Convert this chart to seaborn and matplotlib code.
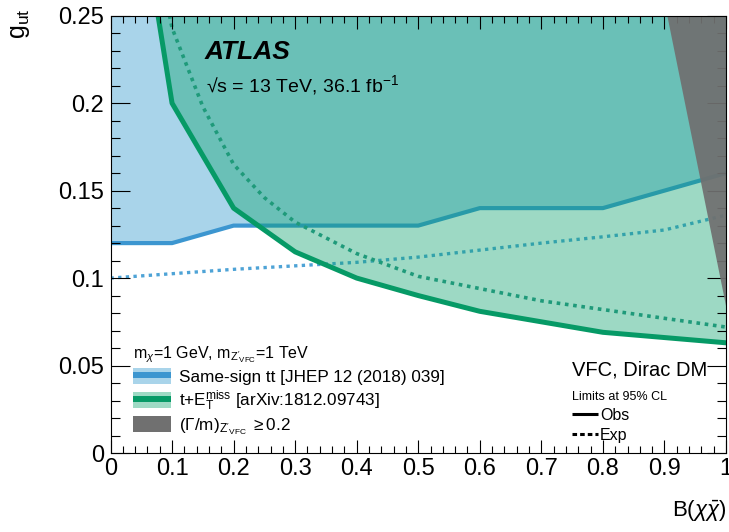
import matplotlib
matplotlib.use("Agg")
import matplotlib.pyplot as plt
import seaborn as sns
from matplotlib.patches import Patch
from matplotlib.lines import Line2D
from matplotlib.legend_handler import HandlerTuple
from matplotlib.ticker import FixedLocator, MultipleLocator, FixedFormatter

# ---- limits on the coupling g_ut versus the invisible branching ratio ----
# same-sign top pair search
ss_bf = [0.0, 0.1, 0.2, 0.3, 0.4, 0.5, 0.6, 0.7, 0.8, 0.9, 1.0]
ss_obs = [0.12, 0.12, 0.13, 0.13, 0.13, 0.13, 0.14, 0.14, 0.14, 0.15, 0.16]
ss_exp = [0.100, 0.1025, 0.105, 0.107, 0.109, 0.112, 0.116, 0.120, 0.1236, 0.1275, 0.136]

# single top + missing transverse momentum search
met_bf = [0.05, 0.1, 0.2, 0.3, 0.4, 0.5, 0.6, 0.7, 0.8, 0.9, 1.0]
met_obs = [0.31, 0.20, 0.14, 0.115, 0.10, 0.09, 0.081, 0.075, 0.069, 0.066, 0.063]
met_exp_bf = [0.09, 0.1, 0.15, 0.2, 0.25, 0.3, 0.4, 0.5, 0.6, 0.7, 0.8, 0.9, 1.0]
met_exp = [0.26, 0.243, 0.198, 0.165, 0.146, 0.132, 0.114, 0.101, 0.094, 0.087, 0.082, 0.077, 0.072]

# region where the Z'_VFC width exceeds 20% of its mass
width_g = [0.083, 0.25]
width_bf = [1.0, 0.904]

x_ticks = [0.0, 0.1, 0.2, 0.3, 0.4, 0.5, 0.6, 0.7, 0.8, 0.9, 1.0]
x_ticklabels = ["0", "0.1", "0.2", "0.3", "0.4", "0.5", "0.6", "0.7", "0.8", "0.9", "1"]
y_ticks = [0.0, 0.05, 0.1, 0.15, 0.2, 0.25]
y_ticklabels = ["0", "0.05", "0.1", "0.15", "0.2", "0.25"]

# colours
light_blue = "#a9d4ea"
blue = "#3c96d0"
blue_dot = "#4ea3d6"
green = "#0ca26c"
green_line = "#069a66"
green_dot = "#1f9a7a"
light_green = "#9edac4"
grey = "#707070"

sns.set_theme(style="ticks")
plt.rcParams.update({
    "font.family": ["Liberation Sans", "DejaVu Sans"],
    "mathtext.fontset": "custom",
    "mathtext.rm": "Liberation Sans",
    "mathtext.it": "Liberation Sans:italic",
    "mathtext.bf": "Liberation Sans:bold",
    "mathtext.sf": "Liberation Sans",
    "axes.linewidth": 0.8,
    "axes.edgecolor": "black",
    "text.color": "black",
    "xtick.color": "black",
    "ytick.color": "black",
})

W, H = 729, 532
fig = plt.figure(figsize=(W / 100, H / 100), dpi=100)
ax = fig.add_axes([110.5 / W, 1 - 453 / H, (726 - 110.5) / W, (453 - 15.7) / H])

TOP = 1.0
# same-sign tt excluded region and limits
ax.fill_between(ss_bf, ss_obs, TOP, color=light_blue, lw=0, zorder=1)
sns.lineplot(x=ss_bf, y=ss_obs, ax=ax, color=blue, lw=3.0, errorbar=None, zorder=2)
sns.lineplot(x=ss_bf, y=ss_exp, ax=ax, color=blue_dot, lw=2.4, errorbar=None,
             linestyle=(0, (1, 1.3)), zorder=2)

# t + MET excluded region and limits
ax.fill_between(met_bf, met_obs, TOP, color=green, alpha=0.4, lw=0, zorder=3)
sns.lineplot(x=met_bf, y=met_obs, ax=ax, color=green_line, lw=3.6, errorbar=None, zorder=4)
sns.lineplot(x=met_exp_bf, y=met_exp, ax=ax, color=green_dot, lw=2.6, errorbar=None,
             linestyle=(0, (1, 1.3)), zorder=4)

# large-width region
ax.fill_betweenx(width_g, width_bf, 1.0, color=grey, alpha=0.93, lw=0, zorder=5)

ax.set_xlim(0, 1)
ax.set_ylim(0, 0.25)
ax.xaxis.set_major_locator(FixedLocator(x_ticks))
ax.xaxis.set_major_formatter(FixedFormatter(x_ticklabels))
ax.xaxis.set_minor_locator(MultipleLocator(0.02))
ax.yaxis.set_major_locator(FixedLocator(y_ticks))
ax.yaxis.set_major_formatter(FixedFormatter(y_ticklabels))
ax.yaxis.set_minor_locator(MultipleLocator(0.01))
ax.tick_params(axis="both", which="both", direction="in", top=True, right=True,
               width=0.8, color="black", labelsize=17, labelcolor="black")
ax.tick_params(axis="x", which="major", length=9.4, pad=3.5)
ax.tick_params(axis="x", which="minor", length=4.7)
ax.tick_params(axis="y", which="major", length=13.7, pad=4.5)
ax.tick_params(axis="y", which="minor", length=6.8)
ax.xaxis.set_zorder(4.5)
ax.yaxis.set_zorder(4.5)
for s in ax.spines.values():
    s.set_zorder(6)
    s.set_visible(True)
ax.set_xlabel("")
ax.set_ylabel("")

# axis titles
fig.text(727 / W, 1 - 517 / H, r"B($\chi\bar{\chi}$)", fontsize=16, ha="right", va="baseline")
fig.text(20 / W, 1 - 8 / H, r"g$_{\mathrm{ut}}$", fontsize=18, rotation=90, ha="center", va="top")

# experiment labels
fig.text(205 / W, 1 - 59.3 / H, "ATLAS", fontsize=19, fontweight="bold",
         fontstyle="italic", va="baseline")
fig.text(206 / W, 1 - 91.7 / H, r"√s = 13 TeV, 36.1 fb$^{-1}$", fontsize=14, va="baseline")

# search legend
h_ss = (Patch(fc=light_blue, ec="none"),
        Line2D([], [], color=blue, lw=4.3, solid_capstyle="butt"))
h_met = (Patch(fc=light_green, ec="none"),
         Line2D([], [], color=green_line, lw=4.3, solid_capstyle="butt"))
h_w = Patch(fc=grey, ec="none")
leg1 = ax.legend(
    [h_ss, h_met, h_w],
    [r"Same-sign tt [JHEP 12 (2018) 039]",
     r"t+E$_{\mathrm{T}}^{\mathrm{miss}}$ [arXiv:1812.09743]",
     r"($\Gamma$/m)$_{\mathrm{Z'}_{\mathrm{VFC}}}$ $\geq$0.2"],
    loc="upper left", bbox_to_anchor=(133 / W, 1 - 344 / H), bbox_transform=fig.transFigure,
    frameon=False, fontsize=12.3, title=r"m$_{\chi}$=1 GeV, m$_{\mathrm{Z'}_{\mathrm{VFC}}}$=1 TeV",
    title_fontsize=11.5, alignment="left", handlelength=2.25, handleheight=1.05,
    handletextpad=0.45, labelspacing=0.2, borderpad=0, borderaxespad=0,
    handler_map={tuple: HandlerTuple(ndivide=1)},
)
leg1.set_zorder(7)

# observed / expected legend
fig.text(572 / W, 1 - 376 / H, "VFC, Dirac DM", fontsize=14.5, va="baseline", zorder=7)
leg2 = ax.legend(
    [Line2D([], [], color="black", lw=2.2, solid_capstyle="butt"),
     Line2D([], [], color="black", lw=2.2, linestyle=(0, (1.5, 1)))],
    ["Obs", "Exp"],
    loc="upper left", bbox_to_anchor=(572 / W, 1 - 391 / H), bbox_transform=fig.transFigure,
    frameon=False, fontsize=11.5, title="Limits at 95% CL", title_fontsize=9,
    alignment="left", handlelength=1.6, handletextpad=0.15, labelspacing=0.3,
    borderpad=0, borderaxespad=0,
)
leg2.set_zorder(7)
ax.add_artist(leg1)

fig.savefig("out.png", dpi=100)
